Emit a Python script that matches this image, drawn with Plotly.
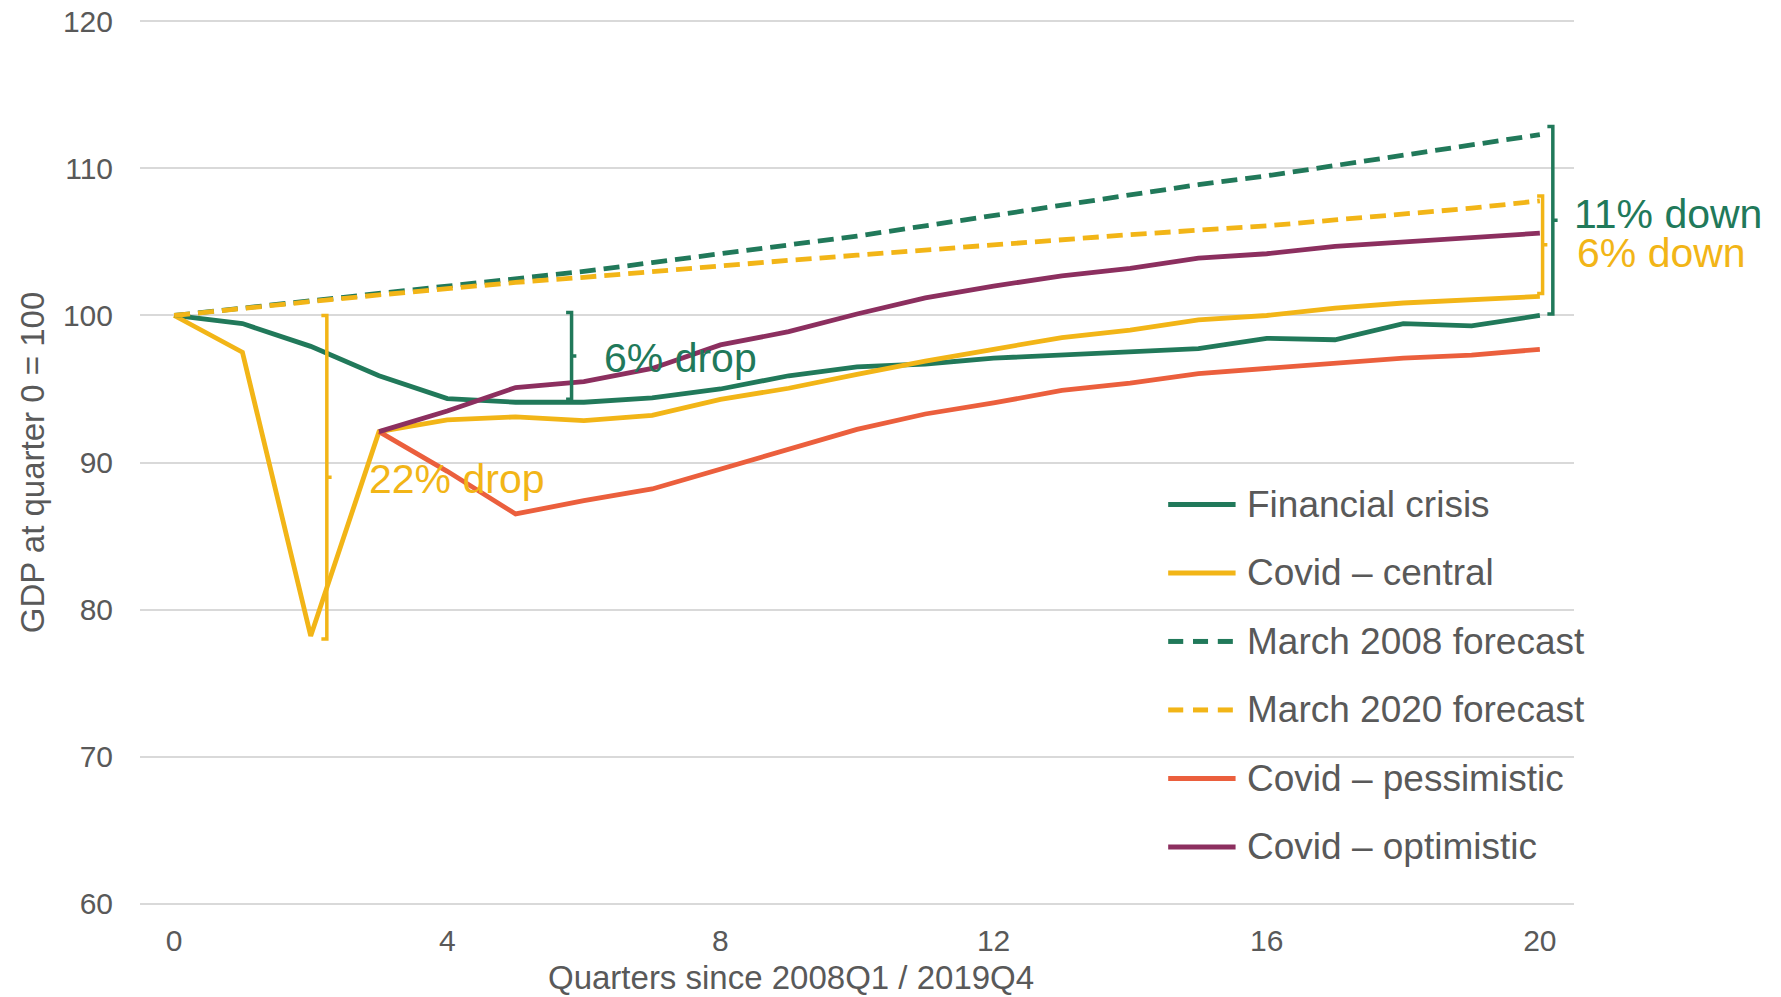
import plotly.graph_objects as go

# Quarters since the pre-recession peak (2008Q1 / 2019Q4)
quarters = list(range(21))

# GDP indexed to quarter 0 = 100
financial_crisis = [100.0, 99.45, 97.9, 95.9, 94.35, 94.1, 94.1, 94.4, 95.0, 95.9, 96.5,
                    96.7, 97.1, 97.3, 97.5, 97.75, 98.45, 98.35, 99.45, 99.3, 100.0]
covid_central = [100.0, 97.5, 78.2, 92.1, 92.9, 93.1, 92.85, 93.2, 94.3, 95.05, 96.0,
                 96.9, 97.7, 98.5, 99.0, 99.7, 100.0, 100.5, 100.85, 101.1, 101.3]
march_2008_forecast = [100.0, 100.5, 101.0, 101.5, 102.0, 102.5, 103.0, 103.6, 104.2, 104.8,
                       105.4, 106.1, 106.8, 107.5, 108.2, 108.9, 109.5, 110.2, 110.9, 111.6, 112.3]
march_2020_forecast = [100.0, 100.5, 100.95, 101.4, 101.85, 102.25, 102.6, 103.0, 103.4, 103.75,
                       104.1, 104.45, 104.85, 105.2, 105.5, 105.8, 106.1, 106.5, 106.9, 107.3, 107.8]
# Scenario paths branch off the central path at quarter 3
scenario_quarters = list(range(3, 21))
covid_pessimistic = [92.1, 89.4, 86.5, 87.4, 88.2, 89.55, 90.9, 92.25, 93.3, 94.05, 94.9,
                     95.4, 96.05, 96.4, 96.8, 97.1, 97.3, 97.7]
covid_optimistic = [92.1, 93.5, 95.1, 95.5, 96.4, 98.0, 98.9, 100.1, 101.2, 102.0, 102.7,
                    103.2, 103.9, 104.2, 104.7, 105.0, 105.3, 105.6]

series_names = ["Financial crisis", "Covid \u2013 central", "March 2008 forecast",
                "March 2020 forecast", "Covid \u2013 pessimistic", "Covid \u2013 optimistic"]

GREEN = "#21795A"
YELLOW = "#F2B517"
RED = "#EB5F3D"
PURPLE = "#8C2F5F"
GREY_TEXT = "#595959"
GRID = "#D9D9D9"
FONT = "Liberation Sans, Arial, sans-serif"

X_RANGE = [-0.5, 20.5]
Y_RANGE = [59.9, 120.1]


def x_to_paper(x):
    return (x - X_RANGE[0]) / (X_RANGE[1] - X_RANGE[0])


series = [
    (quarters, financial_crisis, GREEN, "solid"),
    (quarters, covid_central, YELLOW, "solid"),
    (quarters, march_2008_forecast, GREEN, "16px,8px"),
    (quarters, march_2020_forecast, YELLOW, "16px,8px"),
    (scenario_quarters, covid_pessimistic, RED, "solid"),
    (scenario_quarters, covid_optimistic, PURPLE, "solid"),
]

fig = go.Figure()
for name, (xs, ys, color, dash) in zip(series_names, series):
    fig.add_trace(go.Scatter(x=xs, y=ys, mode="lines", name=name, showlegend=False,
                             line=dict(color=color, width=4.8, dash=dash)))

# Brackets marking the size of each gap: (x, bottom, top, colour, label, label x, label y)
brackets = [
    (2.236, covid_central[2] - 0.2, 100.0, YELLOW, "22% drop", 2.83, 88.9),
    (5.82, financial_crisis[6] + 0.2, 100.2, GREEN, "6% drop", 6.27, 97.1),
    (20.19, financial_crisis[20] + 0.1, 112.85, GREEN, "11% down", 20.47, 106.9),
    (20.04, covid_central[20] + 0.2, 108.13, YELLOW, "6% down", 20.52, 104.25),
]
hook = 0.08
tick = 0.07
shapes = []
annotations = []
for bx, lo, hi, color, label, lx, ly in brackets:
    mid = (lo + hi) / 2
    path = (f"M{bx - hook},{hi} L{bx},{hi} L{bx},{lo} L{bx - hook},{lo} "
            f"M{bx},{mid} L{bx + tick},{mid}")
    shapes.append(dict(type="path", xref="x", yref="y", path=path,
                       line=dict(color=color, width=3.5), layer="above"))
    # labels may sit beyond the right edge of the axis, so place them in paper units
    annotations.append(dict(x=x_to_paper(lx), y=ly, xref="paper", yref="y", text=label,
                            showarrow=False, xanchor="left", yanchor="middle",
                            font=dict(family=FONT, size=41, color=color)))

# Legend drawn inside the plot area
legend_colors = [GREEN, YELLOW, GREEN, YELLOW, RED, PURPLE]
legend_dashes = ["solid", "solid", "dash", "dash", "solid", "solid"]
legend_top = 0.4526
legend_step = 0.0774
for i, (name, color, dash) in enumerate(zip(series_names, legend_colors, legend_dashes)):
    yy = legend_top - i * legend_step
    if dash == "solid":
        shapes.append(dict(type="line", xref="paper", yref="paper", x0=0.717, x1=0.764,
                           y0=yy, y1=yy, line=dict(color=color, width=5)))
    else:
        for k in range(3):
            shapes.append(dict(type="line", xref="paper", yref="paper",
                               x0=0.717 + k * 0.0173, x1=0.717 + k * 0.0173 + 0.0105,
                               y0=yy, y1=yy, line=dict(color=color, width=5)))
    annotations.append(dict(x=0.7706, y=yy, xref="paper", yref="paper", text=name,
                            showarrow=False, xanchor="left", yanchor="middle",
                            font=dict(family=FONT, size=37, color=GREY_TEXT)))

# x-axis title, centred under the data rather than the full plot width
annotations.append(dict(x=0.454, y=-0.082, xref="paper", yref="paper",
                        text="Quarters since 2008Q1 / 2019Q4", showarrow=False,
                        xanchor="center", yanchor="middle",
                        font=dict(family=FONT, size=33, color=GREY_TEXT)))

fig.update_layout(
    width=1781, height=997,
    margin=dict(l=140, r=207, t=20, b=92),
    plot_bgcolor="white", paper_bgcolor="white",
    font=dict(family=FONT, color=GREY_TEXT),
    shapes=shapes, annotations=annotations,
    showlegend=False,
)
fig.update_xaxes(range=X_RANGE, tickmode="array", tickvals=[0, 4, 8, 12, 16, 20],
                 showgrid=False, zeroline=False, showline=False, ticks="",
                 ticklabelstandoff=15, automargin=False,
                 tickfont=dict(family=FONT, size=30, color=GREY_TEXT))
fig.update_yaxes(range=Y_RANGE, tickmode="array", tickvals=[60, 70, 80, 90, 100, 110, 120],
                 showgrid=True, gridcolor=GRID, gridwidth=1.5, zeroline=False, showline=False,
                 ticks="", ticklabelstandoff=26, automargin=False,
                 tickfont=dict(family=FONT, size=30, color=GREY_TEXT),
                 title=dict(text="GDP at quarter 0 = 100", standoff=8,
                            font=dict(family=FONT, size=33, color=GREY_TEXT)))

fig.write_html("out.html")
